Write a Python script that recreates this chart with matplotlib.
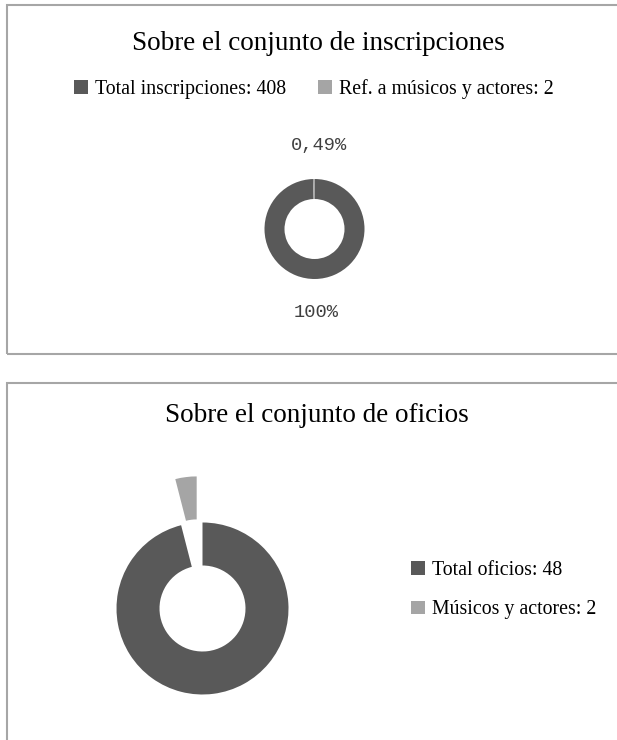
import matplotlib
matplotlib.use("Agg")
import matplotlib.pyplot as plt
from matplotlib.patches import Rectangle

# ---- data ----
top_title = "Sobre el conjunto de inscripciones"
top_labels = ["Total inscripciones: 408", "Ref. a músicos y actores: 2"]
top_values = [408, 2]
top_pct_labels = ["100%", "0,49%"]

bot_title = "Sobre el conjunto de oficios"
bot_labels = ["Total oficios: 48", "Músicos y actores: 2"]
bot_values = [48, 2]

colors = ["#595959", "#a5a5a5"]

W, H = 617, 740
fig = plt.figure(figsize=(W / 100, H / 100), dpi=100)
plt.rcParams['font.family'] = ['Liberation Serif', 'DejaVu Serif']

def fx(px):
    return px / W

def fy(py):
    return 1 - py / H

# panel borders
border = "#a6a6a6"
fig.patches.append(Rectangle((fx(7), fy(354)), fx(620) - fx(7), fy(5) - fy(354),
                             transform=fig.transFigure, fill=False, ec=border, lw=1.5))
fig.patches.append(Rectangle((fx(7), fy(760)), fx(620) - fx(7), fy(383) - fy(760),
                             transform=fig.transFigure, fill=False, ec=border, lw=1.5))

def donut_axes(cx, cy, r, half_units):
    size = 2 * half_units * r
    ax = fig.add_axes([fx(cx - size / 2), fy(cy + size / 2), size / W, size / H])
    return ax

def fix_limits(ax, half_units):
    ax.set_xlim(-half_units, half_units)
    ax.set_ylim(-half_units, half_units)
    ax.set_aspect('equal')
    ax.axis('off')

# ---- top chart ----
fig.text(fx(318), fy(43), top_title, ha='center', va='center', fontsize=19.5)
ax1 = donut_axes(314.5, 229, 50, 2.0)
w1, t1 = ax1.pie(top_values, colors=colors, startangle=90, counterclock=False,
                 radius=1, wedgeprops=dict(width=0.4, linewidth=0),
                 labels=top_pct_labels, labeldistance=1.67,
                 textprops=dict(family='Liberation Mono', fontsize=13.5, color='#404040'))
fix_limits(ax1, 2.0)
for t in t1:
    t.set_ha('center')
    t.set_va('center')
x0, y0 = t1[1].get_position()
t1[1].set_position((x0 + 0.12, y0))
fig.legend(w1, top_labels, loc='center', bbox_to_anchor=(fx(314), fy(89)), ncol=2,
           frameon=False, fontsize=14.3, handlelength=0.7, handleheight=0.7,
           handletextpad=0.35, columnspacing=1.6, borderpad=0)

# ---- bottom chart ----
fig.text(fx(317), fy(415), bot_title, ha='center', va='center', fontsize=19.5)
ax2 = donut_axes(202.5, 608.5, 86, 1.7)
w2, _ = ax2.pie(bot_values, colors=colors, startangle=90, counterclock=False,
                radius=1, explode=[0, 0.54], wedgeprops=dict(width=0.5, linewidth=0))
fix_limits(ax2, 1.7)
fig.legend(w2, bot_labels, loc='center left', bbox_to_anchor=(fx(401), fy(590)), ncol=1,
           frameon=False, fontsize=14.3, handlelength=0.7, handleheight=0.7,
           handletextpad=0.35, labelspacing=1.05, borderpad=0)

fig.savefig("out.png", dpi=100)
